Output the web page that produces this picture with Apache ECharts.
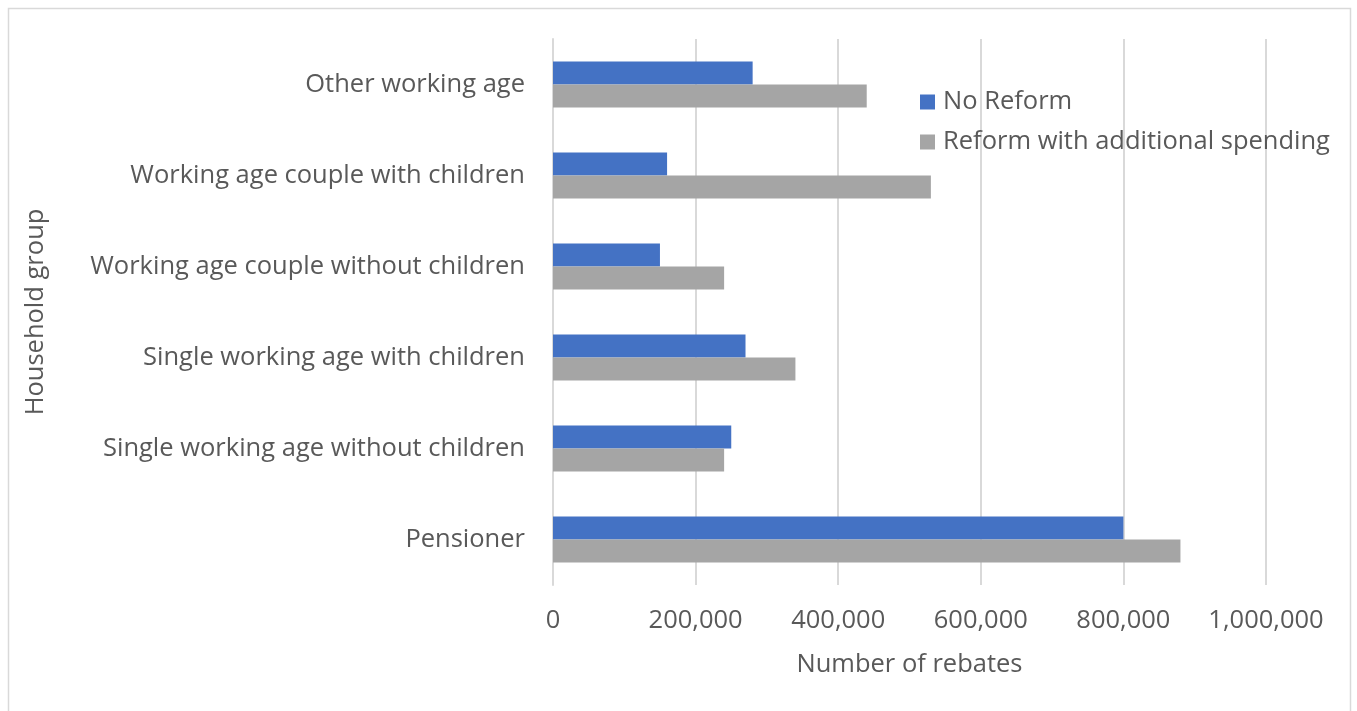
<!DOCTYPE html>
<html>
<head>
<meta charset="utf-8">
<style>
  html, body { margin: 0; padding: 0; background: #fff; }
  #chart { width: 1357px; height: 711px; }
</style>
<script src="https://cdn.jsdelivr.net/npm/echarts@6/dist/echarts.min.js"></script>
</head>
<body>
<div id="chart"></div>
<script>
// Household groups, listed top to bottom
const categories = [
  'Other working age',
  'Working age couple with children',
  'Working age couple without children',
  'Single working age with children',
  'Single working age without children',
  'Pensioner'
];
const noReform = [280000, 160000, 150000, 270000, 250000, 800000];
const reformExtra = [440000, 530000, 240000, 340000, 240000, 880000];
const seriesNames = ['No Reform', 'Reform with additional spending'];

const FONT = '"Open Sans", "Liberation Sans", sans-serif';
const FS = 25.5;
const TEXT = '#595959';
const GRID = '#d9d9d9';

const chart = echarts.init(document.getElementById('chart'));
chart.setOption({
  animation: false,
  backgroundColor: '#fff',
  textStyle: { fontFamily: FONT, color: TEXT },
  graphic: [{
    type: 'rect',
    shape: { x: 8.5, y: 8.5, width: 1342, height: 720 },
    style: { fill: 'none', stroke: '#d9d9d9', lineWidth: 1.5 },
    silent: true
  }],
  grid: { left: 553, right: 91, top: 39, bottom: 126, containLabel: false },
  legend: {
    data: seriesNames,
    orient: 'vertical',
    left: 915,
    top: 84,
    itemWidth: 15,
    itemHeight: 15,
    itemGap: 14,
    icon: 'rect',
    textStyle: { fontFamily: FONT, fontSize: FS, color: TEXT, padding: [0, 0, 0, 3] }
  },
  xAxis: {
    type: 'value',
    min: 0,
    max: 1000000,
    interval: 200000,
    name: 'Number of rebates',
    nameLocation: 'middle',
    nameGap: 67,
    nameTextStyle: { fontFamily: FONT, fontSize: FS, color: TEXT },
    axisLine: { show: false },
    axisTick: { show: false },
    axisLabel: {
      fontFamily: FONT, fontSize: FS, color: TEXT, margin: 23,
      formatter: v => v.toLocaleString('en-US')
    },
    splitLine: { show: true, lineStyle: { color: GRID, width: 2 } }
  },
  yAxis: {
    type: 'category',
    data: categories,
    inverse: true,
    name: 'Household group',
    nameLocation: 'middle',
    nameGap: 504,
    nameRotate: 90,
    nameTextStyle: { fontFamily: FONT, fontSize: FS, color: TEXT },
    axisLine: { show: true, lineStyle: { color: GRID, width: 2 } },
    axisTick: { show: false },
    axisLabel: { fontFamily: FONT, fontSize: FS, color: TEXT, margin: 28 },
    splitLine: { show: false }
  },
  series: [
    {
      name: seriesNames[0],
      type: 'bar',
      data: noReform,
      barWidth: 23,
      barGap: '0%',
      itemStyle: { color: '#4472C4' }
    },
    {
      name: seriesNames[1],
      type: 'bar',
      data: reformExtra,
      barWidth: 23,
      barGap: '0%',
      itemStyle: { color: '#A5A5A5' }
    }
  ]
});
</script>
</body>
</html>
